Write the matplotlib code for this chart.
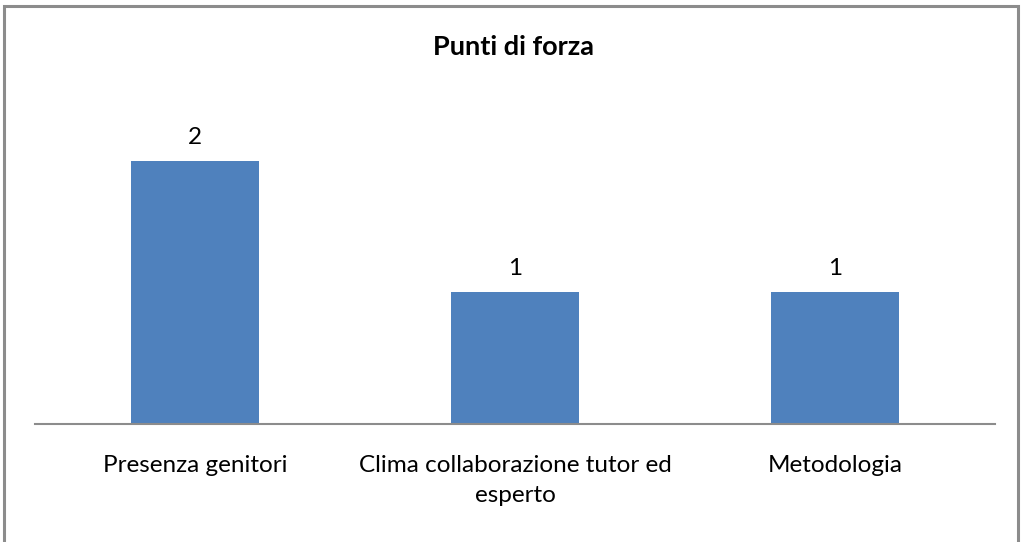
import matplotlib
matplotlib.use("Agg")
import matplotlib.pyplot as plt
from matplotlib.patches import Rectangle

categories = ["Presenza genitori", "Clima collaborazione tutor ed\nesperto", "Metodologia"]
values = [2, 1, 1]

plt.rcParams['font.family'] = ['Lato', 'DejaVu Sans']

W, H = 1022, 542
fig = plt.figure(figsize=(W / 100, H / 100), dpi=100)

# outer chart border
fig.patches.append(Rectangle((4 / W, -0.01), (1018 - 4) / W, 1 - 6 / H + 0.01,
                             transform=fig.transFigure, fill=False,
                             edgecolor="#8c8c8c", linewidth=2.2))

ax = fig.add_axes([35 / W, (H - 424) / H, (995 - 35) / W, (424 - 95) / H])
x = range(len(categories))
bars = ax.bar(x, values, width=0.4, color="#4F81BD")
ax.set_xlim(-0.5, len(categories) - 0.5)
ax.set_ylim(0, 2.5)

for b, v in zip(bars, values):
    ax.text(b.get_x() + b.get_width() / 2, v + 0.1, str(v),
            ha="center", va="bottom", fontsize=17.5)

ax.set_xticks(list(x))
ax.set_xticklabels(categories, fontsize=17.5, linespacing=1.55, va="top")
for t in ax.get_xticklabels():
    t.set_multialignment("center")
ax.tick_params(axis="x", length=0, pad=22)
ax.set_yticks([])
for s in ["top", "right", "left"]:
    ax.spines[s].set_visible(False)
ax.spines["bottom"].set_color("#8c8c8c")
ax.spines["bottom"].set_linewidth(1.5)

fig.text(513 / W, 1 - 47 / H, "Punti di forza", ha="center", va="center",
         fontsize=19.5, fontweight="bold")

fig.savefig("out.png", dpi=100)
